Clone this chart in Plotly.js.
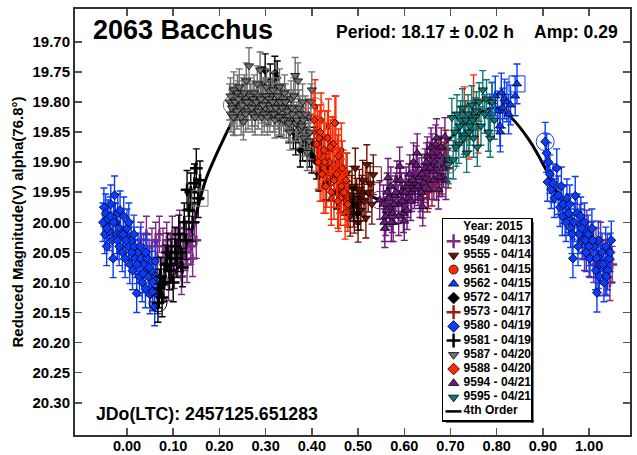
<!DOCTYPE html>
<html><head><meta charset="utf-8">
<script src="https://cdn.plot.ly/plotly-3.0.1.min.js"></script>
<style>html,body{margin:0;padding:0;background:#fff}</style></head>
<body><div id="chart" style="width:637px;height:455px"></div>
<script>
const tickValsX=[0,0.1,0.2,0.3,0.4,0.5,0.6,0.7,0.8,0.9,1.0];
const tickValsY=[19.70,19.75,19.80,19.85,19.90,19.95,20.00,20.05,20.10,20.15,20.20,20.25,20.30];

const curvePhase=[-0.05,-0.03,-0.01,0.01,0.03,0.05,0.07,0.09,0.11,0.13,0.15,0.17,0.19,0.21,0.23,0.25,0.27,0.30,0.33,0.36,0.38,0.40,0.43,0.46,0.49,0.52,0.55,0.58,0.62,0.66,0.70,0.74,0.78,0.80,0.83,0.87,0.905,0.93,0.96,1.00,1.03,1.05];
const curveMag=[19.985,19.995,20.01,20.03,20.055,20.085,20.105,20.10,20.075,20.04,19.985,19.93,19.893,19.86,19.83,19.81,19.80,19.795,19.805,19.83,19.855,19.885,19.915,19.935,19.945,19.953,19.963,19.955,19.93,19.895,19.86,19.83,19.812,19.81,19.825,19.863,19.91,19.95,19.99,20.03,20.06,20.07];

const x9549=[0.062,0.066,0.07,0.074,0.078,0.082,0.086,0.09,0.094,0.098,0.102,0.106,0.11,0.114,0.118,0.122,0.126,0.13,0.134,0.138,0.142,0.146,0.15,0.03,0.036,0.042,0.048,0.054,0.98,0.985,0.99,0.995,1.0,1.005,1.01,1.015,1.02,1.025,1.03,1.035,1.04,1.045,1.05];
const y9549=[20.03,20.06,20.02,20.09,20.04,20.07,20.03,20.10,20.05,20.02,20.08,20.04,20.06,20.01,20.09,20.03,20.05,20.07,20.02,20.04,20.06,20.0,20.03,20.03,20.05,20.02,20.06,20.04,20.0,20.03,20.05,20.01,20.06,20.03,20.07,20.04,20.08,20.03,20.06,20.09,20.05,20.10,20.07];

const x9555=[0.47,0.476,0.48,0.483,0.487,0.49,0.494,0.497,0.5,0.503,0.506,0.51,0.513,0.517,0.519,0.522,0.526,0.53,0.533,0.478,0.486,0.492,0.499,0.508];
const y9555=[19.95,19.918,19.965,19.99,19.94,19.975,19.91,19.96,20.0,19.945,19.98,19.93,19.965,19.993,19.904,19.95,19.935,19.97,19.921,19.975,19.955,19.985,19.97,19.955];

const x9561=[0.407,0.412,0.416,0.42,0.424,0.428,0.432,0.436,0.44,0.444,0.448,0.452,0.456,0.46,0.464,0.468,0.472,0.476,0.73,0.74,0.75,0.76,0.418,0.426,0.434,0.442,0.45,0.458];
const y9561=[19.808,19.85,19.88,19.83,19.90,19.86,19.93,19.84,19.92,19.87,19.95,19.835,19.90,19.94,19.88,19.925,19.983,19.96,19.82,19.85,19.80,19.84,19.92,19.94,19.89,19.96,19.91,19.97];

const x9562=[0.785,0.79,0.797,0.802,0.807,0.808,0.81,0.813,0.817,0.822,0.826,0.83,0.84,0.844];
const y9562=[19.82,19.80,19.79,19.815,19.84,19.85,19.785,19.81,19.795,19.80,19.82,19.805,19.79,19.77];

const x9572=[0.29,0.299,0.31,0.32,0.325,0.335,0.345,0.36,0.375,0.39,0.4,0.405,0.41,0.415,0.42,0.43,0.44,0.454,0.47,0.49,0.5,0.305,0.315,0.33,0.34,0.35,0.355,0.365,0.37,0.38,0.385,0.395];
const y9572=[19.77,19.748,19.765,19.752,19.76,19.80,19.82,19.85,19.88,19.87,19.89,19.87,19.90,19.92,19.885,19.935,19.91,19.95,19.96,19.97,19.985,19.81,19.80,19.83,19.81,19.84,19.82,19.86,19.84,19.87,19.85,19.88];

const x9573=[0.64,0.645,0.65,0.655,0.66,0.665,0.67,0.675,0.68,0.685,0.69,0.695];
const y9573=[19.96,19.92,19.95,19.90,19.94,19.91,19.93,19.89,19.92,19.90,19.88,19.91];

const x9580=[-0.052,-0.05,-0.048,-0.046,-0.044,-0.041,-0.038,-0.035,-0.032,-0.03,-0.027,-0.025,-0.022,-0.02,-0.017,-0.014,-0.01,-0.007,-0.004,0,0.003,0.006,0.009,0.012,0.015,0.018,0.021,0.024,0.027,0.03,0.033,0.036,0.04,0.043,0.046,0.05,0.053,0.056,0.06,0.063,0.066,
-0.043,-0.036,-0.029,-0.021,-0.015,-0.008,-0.002,0.004,0.01,0.016,0.022,0.029,0.035,0.041,0.048,0.055,0.061,
0.905,0.908,0.912,0.91,0.915,0.918,0.922,0.925,0.93,0.933,0.937,0.94,0.944,0.948,0.952,0.956,0.96,0.965,0.97,0.974,0.978,0.982,0.986,0.99,0.994,0.998,1.002,1.006,1.01,1.014,1.017,1.02,1.024,1.028,1.032,1.036,1.04,1.044,1.048,
0.942,0.95,0.958,0.963,0.968,0.976,0.984,0.992,1.0,1.008,1.016,1.022,1.03,1.038,1.046];
const y9580=[20.0,19.975,20.02,19.985,20.04,19.995,20.015,19.97,20.03,20.06,19.955,20.0,20.02,19.985,20.04,20.02,20.05,19.99,20.06,20.01,20.04,20.07,20.03,20.08,20.02,20.06,20.118,20.05,20.09,20.06,20.10,20.07,20.11,20.06,20.09,20.12,20.08,20.10,20.14,20.09,20.12,
20.01,19.99,20.0,20.03,19.98,20.02,20.03,20.0,20.05,20.04,20.07,20.04,20.085,20.05,20.075,20.115,20.065,
19.866,19.885,19.90,19.933,19.92,19.945,19.935,19.96,19.91,19.955,19.975,19.94,19.97,19.99,19.96,19.985,20.01,20.06,19.956,19.985,20.02,19.99,20.03,20.0,20.05,20.02,20.06,20.01,20.04,20.08,20.117,20.03,20.07,20.05,20.10,20.04,20.08,20.06,20.03,
19.99,20.0,19.97,20.02,20.0,20.04,20.01,20.03,20.04,20.03,20.06,20.09,20.07,20.09,20.05];

const x9581=[0.067,0.07,0.073,0.076,0.08,0.084,0.088,0.092,0.096,0.1,0.104,0.108,0.112,0.116,0.12,0.124,0.128,0.13,0.134,0.138,0.142,0.146,0.15,0.154,0.158];
const y9581=[20.134,20.11,20.09,20.125,20.10,20.07,20.05,20.08,20.06,20.10,20.04,20.06,20.02,20.05,20.075,20.0,20.03,19.946,19.98,19.95,20.0,19.935,19.91,19.96,19.93];

const x9587=[0.222,0.225,0.228,0.231,0.233,0.236,0.239,0.243,0.245,0.249,0.252,0.255,0.258,0.262,0.264,0.268,0.271,0.275,0.278,0.282,0.285,0.288,0.292,0.295,0.299,0.302,0.306,0.309,0.313,0.316,0.32,0.323,0.327,0.33,0.334,0.337,0.341,0.345,0.348,0.353,0.355,0.358,0.364,0.365,0.37,0.372,0.376,0.38,0.384,0.39,0.392,0.396,0.40,
0.224,0.227,0.23,0.234,0.238,0.241,0.247,0.25,0.254,0.257,0.26,0.266,0.27,0.273,0.277,0.28,0.284,0.29,0.294,0.297,0.301,0.304,0.308,0.311,0.315,0.318,0.322,0.326,0.329,0.332,0.336,0.339,0.343,0.347,0.35,0.357,0.361,0.368,0.374,0.378,0.382,0.386,0.394,0.398];
const y9587=[19.80,19.82,19.805,19.78,19.826,19.80,19.785,19.775,19.81,19.79,19.833,19.80,19.765,19.815,19.74,19.80,19.82,19.785,19.81,19.77,19.80,19.747,19.825,19.79,19.81,19.775,19.805,19.82,19.79,19.78,19.83,19.80,19.815,19.775,19.825,19.80,19.785,19.83,19.81,19.85,19.795,19.82,19.756,19.835,19.765,19.81,19.845,19.80,19.86,19.884,19.825,19.85,19.78,
19.79,19.81,19.825,19.80,19.815,19.795,19.825,19.805,19.785,19.82,19.80,19.79,19.81,19.795,19.825,19.80,19.815,19.795,19.805,19.82,19.79,19.825,19.795,19.81,19.80,19.82,19.81,19.79,19.825,19.80,19.81,19.83,19.80,19.815,19.835,19.81,19.79,19.83,19.82,19.84,19.83,19.82,19.865,19.80];

const x9588=[0.405,0.41,0.414,0.418,0.422,0.426,0.43,0.434,0.438,0.442,0.446,0.45,0.454,0.458,0.462,0.466,0.47,0.474,0.478,0.416,0.428,0.44,0.448,0.456,0.464];
const y9588=[19.83,19.87,19.90,19.85,19.92,19.88,19.94,19.86,19.90,19.95,19.87,19.835,19.92,19.89,19.96,19.91,19.95,19.93,19.97,19.86,19.90,19.875,19.93,19.965,19.94];

const x9594=[0.547,0.555,0.558,0.56,0.563,0.565,0.568,0.571,0.574,0.576,0.58,0.584,0.587,0.59,0.594,0.598,0.6,0.604,0.608,0.612,0.616,0.62,0.624,0.628,0.632,0.636,0.64,0.645,0.65,0.654,0.658,0.662,0.666,0.67,0.674,0.678,0.682,0.688,0.69,0.695,
0.557,0.562,0.567,0.572,0.578,0.582,0.588,0.592,0.596,0.602,0.606,0.61,0.614,0.618,0.622,0.626,0.63,0.634,0.638,0.642,0.648,0.652,0.656,0.66,0.664,0.668,0.672,0.676,0.68,0.685];
const y9594=[19.963,19.97,20.01,19.99,19.95,19.926,19.975,19.94,19.985,20.0,19.955,19.93,19.97,19.907,19.95,19.985,19.998,19.94,19.96,19.92,19.95,19.90,19.935,19.885,19.925,19.95,19.974,19.91,19.89,19.93,19.875,19.915,19.90,19.86,19.946,19.89,19.925,19.858,19.93,19.895,
20.0,19.98,19.96,20.0,19.97,19.95,19.99,19.93,19.965,19.95,19.98,19.935,19.965,19.93,19.945,19.905,19.94,19.96,19.92,19.935,19.90,19.945,19.91,19.885,19.93,19.87,19.905,19.925,19.875,19.91];

const x9595=[0.695,0.703,0.706,0.71,0.714,0.718,0.722,0.726,0.73,0.735,0.738,0.742,0.746,0.75,0.754,0.758,0.762,0.766,0.77,0.774,0.778,0.782,0.786,0.79,0.795,0.712,0.72,0.728,0.733,0.74,0.748,0.756];
const y9595=[19.904,19.826,19.896,19.85,19.82,19.87,19.83,19.81,19.855,19.885,19.82,19.84,19.805,19.86,19.825,19.875,19.80,19.84,19.78,19.82,19.795,19.85,19.86,19.80,19.83,19.875,19.84,19.86,19.83,19.85,19.83,19.815];

const colors={p:"#7d2a85",dr:"#6f1000",r:"#ff2a00",b:"#0a3cff",k:"#000000",br:"#9c1c14",g:"#707070",pu:"#6c1a7c",t:"#0c7a78"};

const sessions=[
 {n:"9549 - 04/13",x:x9549,y:y9549,c:colors.p,s:"cross-thin",e:0.03,z:7},
 {n:"9555 - 04/14",x:x9555,y:y9555,c:colors.dr,s:"triangle-down",e:0.033,z:8},
 {n:"9561 - 04/15",x:x9561,y:y9561,c:colors.r,s:"circle",e:0.045,z:5},
 {n:"9562 - 04/15",x:x9562,y:y9562,c:colors.b,s:"triangle-up",e:0.033,z:8},
 {n:"9572 - 04/17",x:x9572,y:y9572,c:colors.k,s:"diamond",e:0.028,z:6},
 {n:"9573 - 04/17",x:x9573,y:y9573,c:colors.br,s:"cross-thin",e:0.033,z:7},
 {n:"9580 - 04/19",x:x9580,y:y9580,c:colors.b,s:"diamond",e:0.032,z:7},
 {n:"9581 - 04/19",x:x9581,y:y9581,c:colors.k,s:"cross-thin",e:0.032,z:9},
 {n:"9587 - 04/20",x:x9587,y:y9587,c:colors.g,s:"triangle-down",e:0.03,z:8},
 {n:"9588 - 04/20",x:x9588,y:y9588,c:colors.r,s:"diamond",e:0.045,z:6},
 {n:"9594 - 04/21",x:x9594,y:y9594,c:colors.pu,s:"triangle-up",e:0.032,z:8},
 {n:"9595 - 04/21",x:x9595,y:y9595,c:colors.t,s:"triangle-down",e:0.032,z:8}
];
const firstPoints=[[0.067,20.134,colors.k],[0.228,19.805,colors.g],[0.407,19.808,colors.r],[0.547,19.963,colors.pu],[0.695,19.904,colors.t],[0.905,19.866,colors.b]];
const lastPoints=[[0.158,19.96,colors.g],[0.533,19.921,colors.dr],[0.844,19.77,colors.b]];

function styleMarker(t,legendSize){
 const cross=t.s==="cross-thin";
 return {symbol:t.s,size:legendSize||t.z,color:t.c,line:cross?{color:t.c,width:2.5}:{color:"#000",width:0.8}};
}
const traces=[];
traces.push({x:curvePhase,y:curveMag,mode:"lines",line:{color:"#000",width:3,shape:"spline"},hoverinfo:"skip"});
sessions.forEach(t=>traces.push({x:t.x,y:t.y,mode:"markers",marker:styleMarker(t),
 error_y:{type:"constant",value:t.e,color:t.c,thickness:1.4,width:3.5},hoverinfo:"skip"}));
firstPoints.forEach(p=>traces.push({x:[p[0]],y:[p[1]],mode:"markers",marker:{symbol:"circle-open",size:18,color:p[2],line:{width:1,color:p[2]}},hoverinfo:"skip"}));
lastPoints.forEach(p=>traces.push({x:[p[0]],y:[p[1]],mode:"markers",marker:{symbol:"square-open",size:16,color:p[2],line:{width:1,color:p[2]}},hoverinfo:"skip"}));

const legendTitle="Year: 2015", curveLabel="4th Order";
const rowStep=14.2, rowStart=22.2;
const F={family:"Liberation Sans, Arial, sans-serif",size:12,color:"#000"};
const FB="Liberation Sans, Arial, sans-serif";
function lg(o){return Object.assign({xaxis:"x2",yaxis:"y2",hoverinfo:"skip"},o);}
traces.push(lg({x:[50],y:[7.7],mode:"text",text:["<b>"+legendTitle+"</b>"],textposition:"middle center",textfont:F}));
sessions.forEach((t,i)=>{
 const yy=rowStart+i*rowStep;
 traces.push(lg({x:[10.6],y:[yy],mode:"markers",marker:styleMarker(t,t.s==="cross-thin"?10:9)}));
 traces.push(lg({x:[20.6],y:[yy],mode:"text",text:["<b>"+t.n+"</b>"],textposition:"middle right",textfont:F}));
});
traces.push(lg({x:[2.5,18.5],y:[192.4,192.4],mode:"lines",line:{color:"#000",width:2.5}}));
traces.push(lg({x:[20.6],y:[192.4],mode:"text",text:["<b>"+curveLabel+"</b>"],textposition:"middle right",textfont:F}));

const W=637,H=455,L=75,R=630,T=9,B=435;
const bx0=443,bx1=531,by0=219,by1=420;
const ax=(o)=>Object.assign({showgrid:false,zeroline:false,showline:true,linecolor:"#333",linewidth:2,mirror:"ticks",ticks:"inside",ticklen:7,tickwidth:1.5,tickcolor:"#555",
 tickfont:{family:FB,size:15,color:"#000",weight:"bold"},tickmode:"array"},o);
const layout={width:W,height:H,showlegend:false,paper_bgcolor:"#fff",plot_bgcolor:"#fff",
 margin:{l:L,r:W-R,t:T,b:H-B,pad:0},
 xaxis:ax({range:[-0.1125,1.0885],tickvals:tickValsX,ticktext:tickValsX.map(v=>v.toFixed(2)),domain:[0,1],ticklabelstandoff:-3,
  tickfont:{family:FB,size:14.5,color:"#000",weight:"bold"}}),
 yaxis:ax({range:[20.3535,19.6455],tickvals:tickValsY,ticktext:tickValsY.map(v=>v.toFixed(2)),domain:[0,1],
  title:{text:"<b>Reduced Magnitude(V) alpha(76.8°)</b>",font:{family:FB,size:15,color:"#000"},standoff:5}}),
 xaxis2:{domain:[(bx0-L)/(R-L),(bx1-L)/(R-L)],range:[0,bx1-bx0],anchor:"y2",showticklabels:false,ticks:"",showgrid:false,zeroline:false,showline:true,mirror:true,linecolor:"#000",linewidth:1.5,fixedrange:true},
 yaxis2:{domain:[(B-by1)/(B-T),(B-by0)/(B-T)],range:[by1-by0,0],anchor:"x2",showticklabels:false,ticks:"",showgrid:false,zeroline:false,showline:true,mirror:true,linecolor:"#000",linewidth:1.5,fixedrange:true},
 shapes:[
  {type:"rect",xref:"paper",yref:"paper",x0:(bx1-L)/(R-L),x1:(bx1+2.5-L)/(R-L),y0:(B-by1-2.5)/(B-T),y1:(B-by0-3)/(B-T),fillcolor:"#000",line:{width:0},layer:"above"},
  {type:"rect",xref:"paper",yref:"paper",x0:(bx0+3-L)/(R-L),x1:(bx1+2.5-L)/(R-L),y0:(B-by1-2.5)/(B-T),y1:(B-by1)/(B-T),fillcolor:"#000",line:{width:0},layer:"above"}
 ],
 annotations:[
  {text:"<b>2063 Bacchus</b>",xref:"paper",yref:"paper",x:(91-L)/(R-L),y:(B-30)/(B-T),xanchor:"left",yanchor:"middle",showarrow:false,font:{family:FB,size:27,color:"#000"}},
  {text:"<b>Period: 18.17 ± 0.02 h</b>",xref:"paper",yref:"paper",x:(334-L)/(R-L),y:(B-32)/(B-T),xanchor:"left",yanchor:"middle",showarrow:false,font:{family:FB,size:17.5,color:"#000"}},
  {text:"<b>Amp: 0.29</b>",xref:"paper",yref:"paper",x:(532-L)/(R-L),y:(B-32)/(B-T),xanchor:"left",yanchor:"middle",showarrow:false,font:{family:FB,size:17.5,color:"#000"}},
  {text:"<b>JDo(LTC): 2457125.651283</b>",xref:"paper",yref:"paper",x:(94-L)/(R-L),y:(B-414)/(B-T),xanchor:"left",yanchor:"middle",showarrow:false,font:{family:FB,size:17.7,color:"#000"}}
 ]
};
Plotly.newPlot("chart",traces,layout,{displayModeBar:false,staticPlot:true});
</script></body></html>
